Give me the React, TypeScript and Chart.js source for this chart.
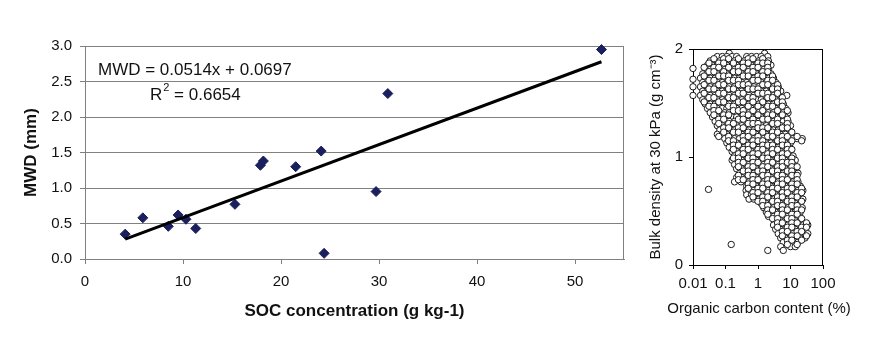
import React, { useEffect, useRef } from "react";
import { Chart, registerables } from "chart.js";

Chart.register(...registerables);

const FONT = "'Liberation Sans', Arial, Helvetica, sans-serif";

// ---------- Left chart: MWD vs SOC ----------
const socValues = [4.1, 5.9, 8.5, 9.5, 10.3, 11.3, 15.3, 17.9, 18.2, 21.5, 24.1, 24.4, 29.7, 30.9, 52.7];
const mwdValues = [0.35, 0.58, 0.46, 0.62, 0.56, 0.43, 0.77, 1.32, 1.38, 1.3, 1.52, 0.08, 0.95, 2.33, 2.95];
const trendSlope = 0.0514;
const trendIntercept = 0.0697;
const r2Text = "0.6654";
const socTicks = [0, 10, 20, 30, 40, 50];
const mwdTicks = [0, 0.5, 1, 1.5, 2, 2.5, 3];

// ---------- Right chart: bulk density vs organic carbon ----------
const ocTicks = [0.01, 0.1, 1, 10, 100];
const ocTickLabels = ["0.01", "0.1", "1", "10", "100"];
const bdTicks = [0, 1, 2];
const bdTickLabels = ["0", "1", "2"];
const ocTitle = "Organic carbon content (%)";
const bdTitle = "Bulk density at 30 kPa (g cm⁻³)";

const bdRowLevels = [
  1.96, 1.93, 1.89, 1.85, 1.81, 1.77, 1.73, 1.69, 1.65, 1.61, 1.57, 1.53, 1.49, 1.45, 1.41, 1.37,
  1.33, 1.29, 1.25, 1.21, 1.17, 1.13, 1.09, 1.05, 1.01, 0.97, 0.93, 0.89, 0.85, 0.81, 0.77, 0.73,
  0.69, 0.65, 0.61, 0.57, 0.53, 0.49, 0.45, 0.41, 0.37, 0.33, 0.29, 0.25, 0.21, 0.17, 0.135,
];
const ocRows = [
  [0.13, 1.6],
  [0.056, 0.08, 0.11, 0.16, 0.22, 0.45, 0.63, 0.9, 1.26, 2.0],
  [0.034, 0.048, 0.067, 0.095, 0.13, 0.19, 0.27, 0.38, 0.53, 0.75, 1.06, 1.5, 2.1],
  [0.028, 0.04, 0.056, 0.08, 0.11, 0.16, 0.22, 0.32, 0.45, 0.63, 0.9, 1.26, 1.8, 2.5],
  [0.024, 0.034, 0.048, 0.067, 0.095, 0.13, 0.19, 0.27, 0.38, 0.53, 0.75, 1.06, 1.5, 2.1],
  [0.02, 0.028, 0.04, 0.056, 0.08, 0.11, 0.16, 0.22, 0.32, 0.45, 0.63, 0.9, 1.26, 1.8, 2.5],
  [0.017, 0.024, 0.034, 0.048, 0.067, 0.095, 0.13, 0.19, 0.27, 0.38, 0.53, 0.75, 1.06, 1.5, 2.1, 3],
  [0.02, 0.028, 0.04, 0.056, 0.08, 0.11, 0.16, 0.22, 0.32, 0.45, 0.63, 0.9, 1.26, 1.8, 2.5, 3.5],
  [0.017, 0.024, 0.034, 0.048, 0.067, 0.095, 0.13, 0.19, 0.27, 0.38, 0.53, 0.75, 1.06, 1.5, 2.1, 3, 4.2],
  [0.02, 0.028, 0.04, 0.056, 0.08, 0.11, 0.16, 0.22, 0.32, 0.45, 0.63, 0.9, 1.26, 1.8, 2.5, 3.5, 5],
  [0.017, 0.024, 0.034, 0.048, 0.067, 0.095, 0.13, 0.19, 0.27, 0.38, 0.53, 0.75, 1.06, 1.5, 2.1, 3, 4.2, 7.7],
  [0.02, 0.028, 0.04, 0.056, 0.08, 0.11, 0.16, 0.22, 0.32, 0.45, 0.63, 0.9, 1.26, 1.8, 2.5, 3.5, 5],
  [0.024, 0.034, 0.048, 0.067, 0.095, 0.13, 0.19, 0.27, 0.38, 0.53, 0.75, 1.06, 1.5, 2.1, 3, 4.2, 6],
  [0.028, 0.04, 0.056, 0.08, 0.11, 0.16, 0.22, 0.32, 0.45, 0.63, 0.9, 1.26, 1.8, 2.5, 3.5, 5, 7],
  [0.034, 0.048, 0.067, 0.095, 0.13, 0.19, 0.27, 0.38, 0.53, 0.75, 1.06, 1.5, 2.1, 3, 4.2, 6, 8.4],
  [0.04, 0.056, 0.08, 0.11, 0.16, 0.22, 0.32, 0.45, 0.63, 0.9, 1.26, 1.8, 2.5, 3.5, 5, 7],
  [0.048, 0.067, 0.095, 0.13, 0.19, 0.27, 0.38, 0.53, 0.75, 1.06, 1.5, 2.1, 3, 4.2, 6, 8.4],
  [0.056, 0.08, 0.11, 0.16, 0.22, 0.32, 0.45, 0.63, 0.9, 1.26, 1.8, 2.5, 3.5, 5, 7, 10],
  [0.067, 0.095, 0.13, 0.19, 0.27, 0.38, 0.53, 0.75, 1.06, 1.5, 2.1, 3, 4.2, 6, 8.4],
  [0.056, 0.08, 0.11, 0.16, 0.22, 0.32, 0.45, 0.63, 0.9, 1.26, 1.8, 2.5, 3.5, 5, 7, 10],
  [0.095, 0.13, 0.19, 0.27, 0.38, 0.53, 0.75, 1.06, 1.5, 2.1, 3, 4.2, 6, 8.4, 12, 16, 23],
  [0.11, 0.16, 0.22, 0.32, 0.45, 0.63, 0.9, 1.26, 1.8, 2.5, 3.5, 5, 7, 10],
  [0.13, 0.19, 0.27, 0.38, 0.53, 0.75, 1.06, 1.5, 2.1, 3, 4.2, 6, 8.4],
  [0.16, 0.22, 0.32, 0.45, 0.63, 0.9, 1.26, 1.8, 2.5, 3.5, 5, 7, 10],
  [0.19, 0.27, 0.38, 0.53, 0.75, 1.06, 1.5, 2.1, 3, 4.2, 6, 8.4, 12],
  [0.16, 0.22, 0.32, 0.45, 0.63, 0.9, 1.26, 1.8, 2.5, 3.5, 5, 7, 10, 14],
  [0.19, 0.27, 0.38, 0.53, 0.75, 1.06, 1.5, 2.1, 3, 4.2, 6, 8.4, 12],
  [0.22, 0.32, 0.45, 0.63, 0.9, 1.26, 1.8, 2.5, 3.5, 5, 7, 10, 14],
  [0.27, 0.38, 0.53, 0.75, 1.06, 1.5, 2.1, 3, 4.2, 6, 8.4, 12, 17],
  [0.22, 0.32, 0.45, 0.63, 0.9, 1.26, 1.8, 2.5, 3.5, 5, 7, 10, 14],
  [0.19, 0.3, 0.53, 0.75, 1.06, 1.5, 2.1, 3, 4.2, 6, 8.4, 12, 17],
  [0.45, 0.63, 0.9, 1.26, 1.8, 2.5, 3.5, 5, 7, 10, 14, 20],
  [0.43, 0.53, 0.75, 1.06, 1.5, 2.1, 3, 4.2, 6, 8.4, 12, 17, 24],
  [0.45, 0.63, 0.9, 1.26, 1.8, 2.5, 3.5, 5, 7, 10, 14, 20],
  [0.53, 0.75, 1.06, 1.5, 2.1, 3, 4.2, 6, 8.4, 12, 17, 24],
  [1.26, 1.8, 2.5, 3.5, 5, 7, 10, 14, 20],
  [1.5, 2.1, 3, 4.2, 6, 8.4, 12, 17, 23],
  [1.8, 2.5, 3.5, 5, 7, 10, 14, 20],
  [2.1, 3, 4.2, 6, 8.4, 12, 17],
  [3.5, 5, 7, 10, 14, 20],
  [3, 4.2, 6, 8.4, 12, 17, 24, 34],
  [3.5, 5, 7, 10, 14, 20, 28],
  [4.2, 6, 8.4, 12, 17, 24, 34],
  [5, 7, 10, 14, 20, 28],
  [6, 8.4, 12, 17],
  [5, 10, 14],
  [2.0, 6],
];

// interleaved, sparser rows read between the main rows
const bdMidLevels = [
  1.91, 1.87, 1.83, 1.79, 1.75, 1.71, 1.67, 1.63, 1.59, 1.55, 1.51, 1.47, 1.43, 1.39, 1.35, 1.31,
  1.27, 1.23, 1.19, 1.15, 1.11, 1.07, 1.03, 0.99, 0.95, 0.91, 0.87, 0.83, 0.79, 0.75, 0.71, 0.67,
  0.63, 0.59, 0.55, 0.51, 0.47, 0.43, 0.39, 0.35, 0.31, 0.27, 0.23, 0.19,
];
const ocMidRows = [
  [0.044, 0.088, 0.125, 0.25, 0.5, 0.7, 1.4],
  [0.031, 0.062, 0.088, 0.175, 0.35, 0.5, 1.0, 1.4, 2.0],
  [0.022, 0.044, 0.062, 0.125, 0.25, 0.35, 0.7, 1.0, 2.0],
  [0.031, 0.044, 0.088, 0.175, 0.25, 0.5, 0.7, 1.4, 2.0],
  [0.022, 0.062, 0.088, 0.125, 0.35, 0.5, 1.0, 1.4, 2.8],
  [0.031, 0.044, 0.125, 0.175, 0.25, 0.7, 1.0, 2.0, 2.8],
  [0.022, 0.062, 0.088, 0.25, 0.35, 0.5, 1.4, 2.0, 4.0],
  [0.031, 0.044, 0.125, 0.175, 0.5, 0.7, 1.0, 2.8, 4.0],
  [0.022, 0.062, 0.088, 0.25, 0.35, 1.0, 1.4, 2.0, 4.0],
  [0.031, 0.044, 0.125, 0.175, 0.5, 0.7, 2.0, 2.8, 5.6],
  [0.022, 0.062, 0.088, 0.25, 0.35, 0.7, 1.4, 4.0, 5.6],
  [0.031, 0.044, 0.125, 0.175, 0.5, 1.0, 2.0, 2.8, 5.6],
  [0.044, 0.062, 0.175, 0.25, 0.35, 0.7, 1.4, 4.0, 8],
  [0.044, 0.088, 0.125, 0.35, 0.5, 1.0, 2.0, 2.8, 5.6],
  [0.062, 0.088, 0.25, 0.35, 0.7, 1.4, 2.0, 4.0, 8],
  [0.062, 0.125, 0.175, 0.5, 0.7, 1.0, 2.8, 4.0, 8],
  [0.088, 0.125, 0.25, 0.35, 1.0, 1.4, 2.0, 5.6, 8],
  [0.088, 0.175, 0.25, 0.5, 0.7, 1.4, 2.8, 4.0, 11],
  [0.062, 0.125, 0.35, 0.5, 1.0, 2.0, 2.8, 5.6, 8, 16],
  [0.125, 0.175, 0.35, 0.7, 1.0, 1.4, 4.0, 5.6, 11, 22],
  [0.175, 0.25, 0.5, 0.7, 1.4, 2.0, 2.8, 5.6, 8],
  [0.175, 0.35, 0.5, 1.0, 1.4, 2.8, 4.0, 8, 11],
  [0.25, 0.35, 0.7, 1.0, 2.0, 2.8, 5.6, 8],
  [0.175, 0.25, 0.5, 0.7, 1.4, 2.0, 4.0, 5.6, 11],
  [0.25, 0.35, 0.7, 1.0, 2.0, 2.8, 5.6, 8, 11],
  [0.25, 0.5, 0.7, 1.4, 2.0, 4.0, 5.6, 11, 16],
  [0.35, 0.5, 1.0, 1.4, 2.8, 4.0, 8, 11],
  [0.25, 0.5, 0.7, 1.4, 2.0, 4.0, 5.6, 11, 16],
  [0.25, 0.35, 0.7, 1.0, 2.0, 2.8, 5.6, 8, 16],
  [0.5, 0.7, 1.4, 2.0, 4.0, 5.6, 11, 16],
  [0.5, 1.0, 1.4, 2.8, 4.0, 8, 11, 22],
  [0.7, 1.0, 2.0, 2.8, 5.6, 8, 16, 22],
  [0.7, 1.4, 2.0, 4.0, 5.6, 11, 16],
  [1.0, 1.4, 2.8, 4.0, 8, 11, 22],
  [1.4, 2.0, 4.0, 5.6, 11, 16],
  [2.0, 2.8, 5.6, 8, 16, 22],
  [2.0, 4.0, 5.6, 11, 16],
  [2.8, 4.0, 8, 11, 22],
  [4.0, 5.6, 11, 16, 31],
  [4.0, 8, 11, 22, 31],
  [5.6, 8, 16, 22],
  [5.6, 11, 16, 31],
  [8, 11, 22],
  [8, 16],
];
const extraOc = [0.01, 0.01, 0.01, 0.01, 0.03, 0.15];
const extraBd = [1.82, 1.72, 1.65, 1.57, 0.7, 0.19];

// ---------- helpers ----------
const fixedTicks = (values: number[]) => (scale: any) => {
  scale.ticks = values.map((v) => ({ value: v }));
};

const boxPlugin = (id: string, color: string) => ({
  id,
  beforeDatasetsDraw(chart: any) {
    const { ctx, chartArea: a } = chart;
    ctx.save();
    ctx.strokeStyle = color;
    ctx.lineWidth = 1;
    ctx.beginPath();
    ctx.moveTo(a.left, a.top + 0.5);
    ctx.lineTo(a.right, a.top + 0.5);
    ctx.moveTo(a.right - 0.5, a.top);
    ctx.lineTo(a.right - 0.5, a.bottom);
    ctx.stroke();
    ctx.restore();
  },
});

const equationPlugin = {
  id: "equation",
  afterDatasetsDraw(chart: any) {
    const { ctx, chartArea: a } = chart;
    ctx.save();
    ctx.fillStyle = "#111";
    ctx.textAlign = "left";
    ctx.textBaseline = "middle";
    ctx.font = `17px ${FONT}`;
    ctx.fillText(`MWD = ${trendSlope}x + ${trendIntercept}`, a.left + 13, a.top + 24);
    const x2 = a.left + 65;
    const y2 = a.top + 49;
    ctx.fillText("R", x2, y2);
    const wR = ctx.measureText("R").width;
    ctx.font = `11px ${FONT}`;
    ctx.fillText("2", x2 + wR + 1, y2 - 7);
    const w2 = ctx.measureText("2").width;
    ctx.font = `17px ${FONT}`;
    ctx.fillText(` = ${r2Text}`, x2 + wR + 1 + w2, y2);
    ctx.restore();
  },
};

const ocTitlePlugin = {
  id: "ocTitle",
  afterDraw(chart: any) {
    const { ctx, chartArea: a } = chart;
    ctx.save();
    ctx.fillStyle = "#111";
    ctx.textAlign = "center";
    ctx.textBaseline = "middle";
    ctx.font = `15px ${FONT}`;
    ctx.fillText(ocTitle, (a.left + a.right) / 2 + 1, a.bottom + 44);
    ctx.restore();
  },
};

function LeftChart() {
  const ref = useRef<HTMLCanvasElement>(null);
  useEffect(() => {
    const minX = Math.min(...socValues);
    const maxX = Math.max(...socValues);
    const grey = "#808080";
    const chart = new Chart(ref.current as HTMLCanvasElement, {
      type: "scatter",
      data: {
        datasets: [
          {
            label: "trend",
            data: [
              { x: minX, y: trendSlope * minX + trendIntercept },
              { x: maxX, y: trendSlope * maxX + trendIntercept },
            ],
            showLine: true,
            borderColor: "#000",
            borderWidth: 3,
            pointRadius: 0,
            clip: false as any,
            order: 0,
          } as any,
          {
            label: "MWD",
            data: socValues.map((x, i) => ({ x, y: mwdValues[i] })),
            pointStyle: "rectRot",
            pointRadius: 5,
            backgroundColor: "#1a1f5e",
            borderColor: "#1a1f5e",
            borderWidth: 1,
            clip: false as any,
            order: 1,
          } as any,
        ],
      },
      options: {
        responsive: false,
        animation: false,
        events: [],
        layout: { padding: { left: 0, right: 16, top: 46, bottom: 0 } },
        plugins: { legend: { display: false }, tooltip: { enabled: false } },
        scales: {
          x: {
            type: "linear",
            min: 0,
            max: 55,
            afterBuildTicks: fixedTicks(socTicks),
            afterFit: (s: any) => {
              s.height = 101;
            },
            grid: { display: true, drawOnChartArea: false, drawTicks: true, tickLength: 5, color: grey },
            border: { display: true, color: grey },
            ticks: { padding: 9, color: "#111", font: { family: FONT, size: 15 } },
            title: {
              display: true,
              text: "SOC concentration (g kg-1)",
              color: "#111",
              font: { family: FONT, size: 17, weight: "bold" },
              padding: { top: 0, bottom: 38 },
            },
          },
          y: {
            type: "linear",
            min: 0,
            max: 3,
            afterBuildTicks: fixedTicks(mwdTicks),
            afterFit: (s: any) => {
              s.width = 85;
            },
            grid: { display: true, drawTicks: true, tickLength: 5, color: grey },
            border: { display: true, color: grey },
            ticks: {
              padding: 8,
              color: "#111",
              font: { family: FONT, size: 15 },
              callback: (v: any) => Number(v).toFixed(1),
            },
            title: {
              display: true,
              text: "MWD (mm)",
              color: "#111",
              font: { family: FONT, size: 17, weight: "bold" },
              padding: { top: 21, bottom: 0 },
            },
          },
        },
      },
      plugins: [boxPlugin("leftBox", grey), equationPlugin],
    } as any);
    return () => chart.destroy();
  }, []);
  return <canvas ref={ref} width={640} height={360} style={{ display: "block" }} />;
}

function RightChart() {
  const ref = useRef<HTMLCanvasElement>(null);
  useEffect(() => {
    const points: { x: number; y: number }[] = [];
    ocRows.forEach((row, i) => row.forEach((oc) => points.push({ x: oc, y: bdRowLevels[i] })));
    ocMidRows.forEach((row, i) => row.forEach((oc) => points.push({ x: oc, y: bdMidLevels[i] })));
    extraOc.forEach((oc, i) => points.push({ x: oc, y: extraBd[i] }));
    const chart = new Chart(ref.current as HTMLCanvasElement, {
      type: "scatter",
      data: {
        datasets: [
          {
            label: "BD",
            data: points,
            pointStyle: "circle",
            pointRadius: 3.2,
            backgroundColor: "#ffffff",
            borderColor: "#1a1a1a",
            borderWidth: 1,
            clip: false as any,
          } as any,
        ],
      },
      options: {
        responsive: false,
        animation: false,
        events: [],
        layout: { padding: { left: 0, right: 59, top: 49, bottom: 0 } },
        plugins: { legend: { display: false }, tooltip: { enabled: false } },
        scales: {
          x: {
            type: "logarithmic",
            min: 0.01,
            max: 100,
            afterBuildTicks: fixedTicks(ocTicks),
            afterFit: (s: any) => {
              s.height = 95;
            },
            grid: { display: true, drawOnChartArea: false, drawTicks: true, tickLength: 4, color: "#000" },
            border: { display: true, color: "#000" },
            ticks: {
              padding: 6,
              color: "#111",
              autoSkip: false,
              maxRotation: 0,
              font: { family: FONT, size: 15 },
              callback: (_v: any, i: number) => ocTickLabels[i],
            },
            title: { display: false },
          },
          y: {
            type: "linear",
            min: 0,
            max: 2,
            afterBuildTicks: fixedTicks(bdTicks),
            afterFit: (s: any) => {
              s.width = 53;
            },
            grid: { display: true, drawOnChartArea: false, drawTicks: true, tickLength: 4, color: "#000" },
            border: { display: true, color: "#000" },
            ticks: {
              padding: 6,
              color: "#111",
              font: { family: FONT, size: 15 },
              callback: (_v: any, i: number) => bdTickLabels[i],
            },
            title: {
              display: true,
              text: bdTitle,
              color: "#111",
              font: { family: FONT, size: 15 },
              padding: { top: 7, bottom: 0 },
            },
          },
        },
      },
      plugins: [boxPlugin("rightBox", "#000"), ocTitlePlugin],
    } as any);
    return () => chart.destroy();
  }, []);
  return <canvas ref={ref} width={242} height={360} style={{ display: "block" }} />;
}

export default function App() {
  return (
    <div style={{ position: "absolute", left: 0, top: 0, width: 882, height: 360, background: "#fff" }}>
      <div style={{ position: "absolute", left: 0, top: 0, width: 640, height: 360 }}>
        <LeftChart />
      </div>
      <div style={{ position: "absolute", left: 640, top: 0, width: 242, height: 360 }}>
        <RightChart />
      </div>
    </div>
  );
}
